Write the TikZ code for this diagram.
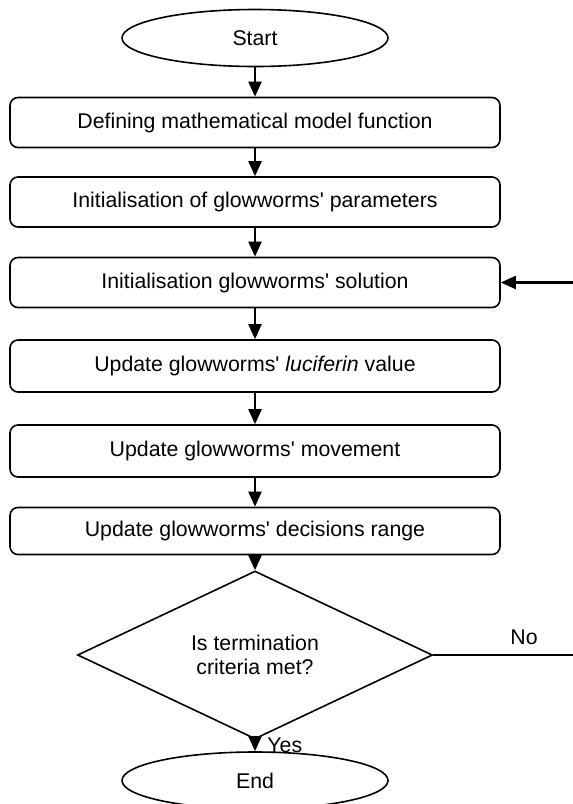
\documentclass[tikz,border=0pt]{standalone}
\usepackage{fontspec}
\setmainfont{Liberation Sans}[Ligatures=TeXOff]
\usetikzlibrary{shapes.geometric,arrows.meta}
\begin{document}
\begin{tikzpicture}[x=1pt,y=-1pt,
  every node/.style={font=\fontsize{21.3}{24.5}\selectfont},
  stepbox/.style={draw,line width=1.6pt,rounded corners=8pt,minimum width=490pt,inner sep=0pt,align=center},
  term/.style={draw,ellipse,line width=1.6pt,minimum width=266pt,minimum height=57pt,inner sep=0pt},
  decide/.style={draw,diamond,line width=1.6pt,minimum width=355pt,minimum height=156pt,inner sep=0pt,align=center},
  flow/.style={line width=2.2pt,-{Triangle[length=15pt,width=13pt]}},
  plain/.style={line width=1.4pt}]
\useasboundingbox (0,0) rectangle (573,804);
\node[term] (start) at (255,38) {Start};
\node[stepbox,minimum height=50pt] (b1) at (255,122.5) {Defining mathematical model function};
\node[stepbox,minimum height=50pt] (b2) at (255,202) {Initialisation of glowworms' parameters};
\node[stepbox,minimum height=50pt] (b3) at (255,282.5) {Initialisation glowworms' solution};
\node[stepbox,minimum height=52pt] (b4) at (255,366) {Update glowworms' \textit{luciferin} value};
\node[stepbox,minimum height=52pt] (b5) at (255,451) {Update glowworms' movement};
\node[stepbox,minimum height=47pt] (b6) at (255,531) {Update glowworms' decisions range};
\node[decide] (d) at (255,655) {Is termination\\criteria met?};
\node[term] (end) at (255,780.5) {End};
\coordinate (rno) at (573,655);
\coordinate (rin) at (573,282.5);
\draw[flow] (start) -- (b1);
\draw[flow] (b1) -- (b2);
\draw[flow] (b2) -- (b3);
\draw[flow] (b3) -- (b4);
\draw[flow] (b4) -- (b5);
\draw[flow] (b5) -- (b6);
\draw[flow] (b6) -- (d);
\draw[flow] (d) -- node[right=8pt,pos=0.45] (yes) {Yes} (end);
\draw[plain] (d.east) -- node[above=6pt,pos=0.65] (no) {No} (rno);
\draw[flow] (rin) -- (b3.east);
\end{tikzpicture}
\end{document}
